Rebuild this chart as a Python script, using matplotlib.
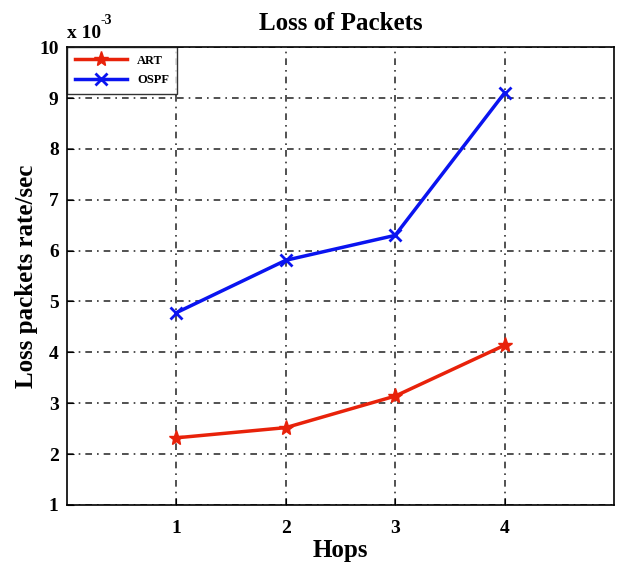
import matplotlib.pyplot as plt

# loss rate per hop count (values in units of 1e-3)
hops = [1, 2, 3, 4]
art_loss = [2.32, 2.52, 3.14, 4.14]
ospf_loss = [4.78, 5.81, 6.30, 9.10]

plt.rcParams['font.family'] = 'Liberation Serif'
plt.rcParams['font.weight'] = 'bold'

fig = plt.figure(figsize=(6.17, 5.68), dpi=100)
ax = fig.add_axes([0.1086, 0.111, 0.8864, 0.806])

ax.plot(hops, art_loss, color='#e8220a', marker='*', markersize=11, linewidth=2.5, label='ART')
ax.plot(hops, ospf_loss, color='#0a14f0', marker='x', markersize=8, markeredgewidth=2, linewidth=2.5, label='OSPF')

ax.set_xlim(0, 5)
ax.set_ylim(1, 10)
ax.set_xticks(hops)
ax.set_yticks(range(1, 11))
ax.tick_params(labelsize=14, direction='in', length=5)
ax.tick_params(axis='x', pad=11)
ax.tick_params(axis='y', pad=6)
ax.grid(True, color='black', linestyle=(0, (4, 3, 1, 3)), linewidth=1.2, alpha=0.8)

for s in ax.spines.values():
    s.set_linewidth(1.2)

ax.set_title('Loss of Packets', fontsize=18, fontweight='bold', pad=12)
ax.set_xlabel('Hops', fontsize=18, fontweight='bold', labelpad=1)
ax.set_ylabel('Loss packets rate/sec', fontsize=18, fontweight='bold', labelpad=1)
ax.text(0.0, 1.012, 'x 10', transform=ax.transAxes, fontsize=14, fontweight='bold', va='bottom')
ax.text(0.062, 1.045, '-3', transform=ax.transAxes, fontsize=10, fontweight='bold', va='bottom')

leg = ax.legend(loc='upper left', frameon=True, fancybox=False, borderaxespad=0,
                handlelength=4.2, borderpad=0.6, labelspacing=0.6, edgecolor='black',
                prop={'weight': 'bold', 'size': 9})
leg.get_frame().set_linewidth(1.0)

fig.savefig('out.png', dpi=100)
